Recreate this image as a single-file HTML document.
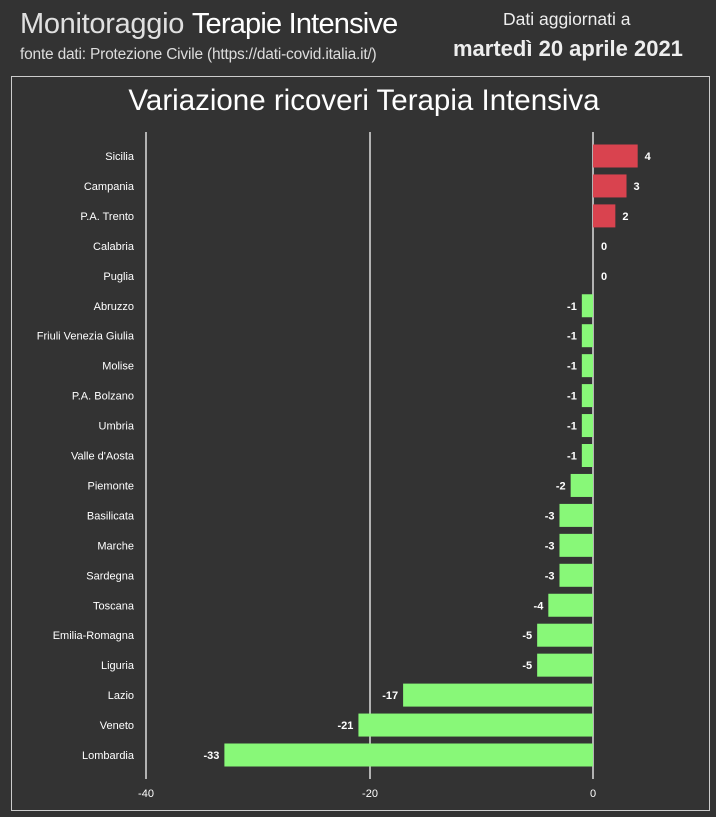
<!DOCTYPE html>
<html><head><meta charset="utf-8"><style>
body{margin:0;width:716px;height:817px;background:#333333;overflow:hidden;font-family:"Liberation Sans",sans-serif;color:#fff;position:relative}
.a{position:absolute;white-space:nowrap}
</style></head><body>
<div class="a" style="left:20px;top:8px;font-size:29px;color:#e0e0e0;letter-spacing:-0.3px">Monitoraggio <span style="color:#fff;letter-spacing:-0.8px">Terapie Intensive</span></div>
<div class="a" style="left:20px;top:46px;font-size:15.5px;color:#ddd;letter-spacing:-0.2px">fonte dati: Protezione Civile (https://dati-covid.italia.it/)</div>
<div class="a" style="left:503px;top:9px;font-size:17.5px;color:#eee">Dati aggiornati a</div>
<div class="a" style="left:453px;top:36px;font-size:22px;font-weight:bold;color:#eee">martedì 20 aprile 2021</div>
<div class="a" style="left:11px;top:76px;width:697px;height:733px;border:1px solid #ccc"></div>
<div class="a" style="left:0;width:728px;text-align:center;top:84px;font-size:29.5px;color:#fff">Variazione ricoveri Terapia Intensiva</div>
<svg class="a" style="left:0;top:0" width="716" height="817" font-family="Liberation Sans, sans-serif" font-size="11" fill="#fff">
<g stroke="#ddd" stroke-width="1.5"><line x1="146" y1="132" x2="146" y2="779"/><line x1="370" y1="132" x2="370" y2="779"/><line x1="593" y1="132" x2="593" y2="779"/></g>
<g text-anchor="middle" font-size="11"><text x="146" y="797">-40</text><text x="370" y="797">-20</text><text x="593" y="797">0</text></g>
<g id="bars"></g>
</svg>
<script>
var d=[["Sicilia",4],["Campania",3],["P.A. Trento",2],["Calabria",0],["Puglia",0],["Abruzzo",-1],["Friuli Venezia Giulia",-1],["Molise",-1],["P.A. Bolzano",-1],["Umbria",-1],["Valle d'Aosta",-1],["Piemonte",-2],["Basilicata",-3],["Marche",-3],["Sardegna",-3],["Toscana",-4],["Emilia-Romagna",-5],["Liguria",-5],["Lazio",-17],["Veneto",-21],["Lombardia",-33]];
var s="",k=11.17,z=593;
d.forEach(function(r,i){var c=156+i*29.95,v=r[1],w=Math.abs(v)*k;
s+='<text x="134" y="'+(c+4)+'" text-anchor="end">'+r[0]+'</text>';
if(v>0){s+='<rect x="'+z+'" y="'+(c-11.5)+'" width="'+w+'" height="23" fill="#d9434f"/><text x="'+(z+w+7)+'" y="'+(c+4)+'" font-weight="bold">'+v+'</text>';}
else if(v<0){s+='<rect x="'+(z-w)+'" y="'+(c-11.5)+'" width="'+w+'" height="23" fill="#88f878"/><text x="'+(z-w-5)+'" y="'+(c+4)+'" text-anchor="end" font-weight="bold">'+v+'</text>';}
else{s+='<text x="601" y="'+(c+4)+'" font-weight="bold">0</text>';}
});
document.getElementById("bars").innerHTML=s;
</script>
</body></html>
